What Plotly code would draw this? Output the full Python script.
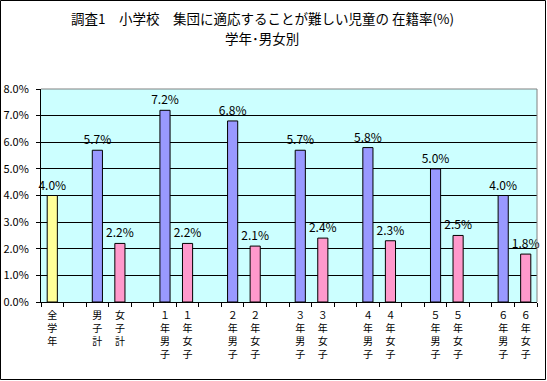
import plotly.graph_objects as go

title_lines = ["調査1　小学校　集団に適応することが難しい児童の 在籍率(%)", "学年･男女別"]

categories = ["全学年", "", "男子計", "女子計", "",
              "１年男子", "１年女子", "", "２年男子", "２年女子", "",
              "３年男子", "３年女子", "", "４年男子", "４年女子", "",
              "５年男子", "５年女子", "", "６年男子", "６年女子"]
values = [4.0, None, 5.7, 2.2, None,
          7.2, 2.2, None, 6.8, 2.1, None,
          5.7, 2.4, None, 5.8, 2.3, None,
          5.0, 2.5, None, 4.0, 1.8]
groups = ["all", None, "m", "f", None,
          "m", "f", None, "m", "f", None,
          "m", "f", None, "m", "f", None,
          "m", "f", None, "m", "f"]
y_ticks = [0, 1, 2, 3, 4, 5, 6, 7, 8]

color_map = {"all": "#FFFF99", "m": "#9999FF", "f": "#FF99CC", None: "rgba(0,0,0,0)"}

FONT = "Noto Sans CJK JP"

xcats = []
for i, c in enumerate(categories):
    if c:
        xcats.append("<br>".join(list(c)))
    else:
        xcats.append("\u200b" * (i + 1))

texts = [f"{v:.1f}%" if v is not None else "" for v in values]
colors = [color_map[g] for g in groups]

fig = go.Figure()
fig.add_trace(go.Bar(
    x=xcats, y=values, text=texts, textposition="outside",
    constraintext="none",
    textfont=dict(family=FONT, size=12, color="black"),
    marker=dict(color=colors, line=dict(color="black", width=1)),
    width=0.45, cliponaxis=False, hoverinfo="skip",
))

ML, MR, MT, MB = 41, 10, 89, 79
W, H = 547, 381
PW, PH = W - ML - MR, H - MT - MB

fig.update_layout(
    width=W, height=H,
    margin=dict(l=ML, r=MR, t=MT, b=MB, autoexpand=False),
    paper_bgcolor="white", plot_bgcolor="#CCFFFF",
    showlegend=False,
    font=dict(family=FONT, size=12, color="black"),
)
# title lines
for line, py in zip(title_lines, [18, 38]):
    fig.add_annotation(text=line, xref="paper", yref="paper",
                       x=(262 - ML) / PW, y=(H - MB - py) / PH,
                       xanchor="center", yanchor="middle", showarrow=False,
                       font=dict(family=FONT, size=13.5, color="black"))

fig.update_xaxes(
    type="category", showline=True, linecolor="black", linewidth=1,
    ticks="outside", tickson="boundaries", ticklen=4, tickcolor="black",
    tickangle=0, tickfont=dict(family=FONT, size=10), showgrid=False,
    automargin=False, ticklabelstandoff=4,
)
fig.update_yaxes(
    range=[0, 8], tickvals=y_ticks, ticktext=[f"{v:.1f}%" for v in y_ticks],
    showline=True, linecolor="black", linewidth=1,
    ticks="outside", ticklen=4, tickcolor="black",
    showgrid=True, gridcolor="black", gridwidth=1,
    tickfont=dict(family=FONT, size=11), zeroline=False,
    ticklabelstandoff=5, automargin=False,
)
# plot area top/right border (gray)
fig.add_shape(type="line", xref="paper", yref="paper", x0=0, x1=1, y0=1, y1=1,
              line=dict(color="#808080", width=1))
fig.add_shape(type="line", xref="paper", yref="paper", x0=1, x1=1, y0=0, y1=1,
              line=dict(color="#808080", width=1))
# outer chart border
fig.add_shape(type="rect", xref="paper", yref="paper",
              x0=(0.5 - ML) / PW, x1=(W - 1.5 - ML) / PW,
              y0=(1.5 - MB) / PH, y1=(H - 0.5 - MB) / PH,
              line=dict(color="black", width=1))

fig.write_html("out.html", config={"displayModeBar": False},
               post_script="document.body.style.margin='0px';")
